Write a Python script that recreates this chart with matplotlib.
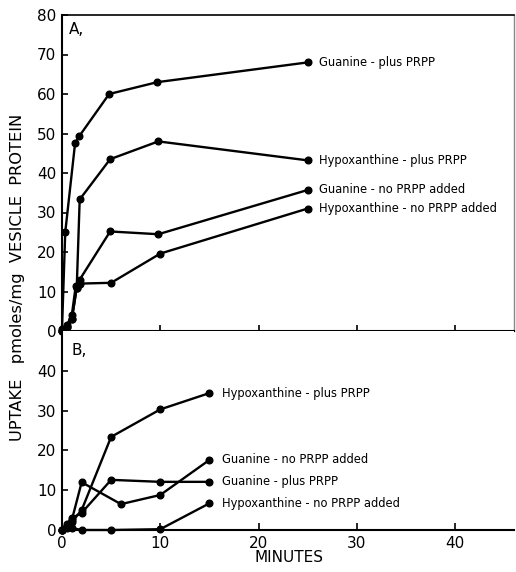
import matplotlib
matplotlib.use("Agg")
import matplotlib.pyplot as plt

# Panel A data (minutes, pmoles/mg)
a_gua_plus_x = [0, 0.33, 1.33, 1.75, 4.8, 9.7, 25]
a_gua_plus_y = [0.5, 25, 47.5, 49.3, 60, 63, 68]
a_hyp_plus_x = [0, 0.5, 1.0, 1.5, 1.8, 4.9, 9.8, 25]
a_hyp_plus_y = [0, 1, 3, 11, 33.3, 43.5, 48, 43.2]
a_gua_no_x = [0, 0.5, 1.0, 1.5, 1.8, 4.9, 9.8, 25]
a_gua_no_y = [0, 1, 3, 11, 13, 25.2, 24.5, 35.7]
a_hyp_no_x = [0, 0.5, 1.0, 1.4, 1.8, 5, 10, 25]
a_hyp_no_y = [0, 1.5, 4, 11.5, 12, 12.2, 19.6, 31]

# Panel B data
b_hyp_plus_x = [0, 0.5, 1, 2, 5, 10, 15]
b_hyp_plus_y = [0, 1, 2, 5, 23.4, 30.3, 34.4]
b_gua_no_x = [0, 0.5, 1, 2, 6, 10, 15]
b_gua_no_y = [0, 1, 2.5, 12, 6.5, 8.8, 17.6]
b_gua_plus_x = [0, 0.5, 1, 2, 5, 10, 15]
b_gua_plus_y = [0, 1.5, 3, 4.3, 12.6, 12.1, 12.1]
b_hyp_no_x = [0, 0.5, 1, 2, 5, 10, 15]
b_hyp_no_y = [0, 0.5, 0.5, 0, 0, 0.2, 6.7]

labels_a = ["Guanine - plus PRPP", "Hypoxanthine - plus PRPP",
            "Guanine - no PRPP added", "Hypoxanthine - no PRPP added"]
labels_a_y = [68, 43.2, 35.7, 31]
labels_b = ["Hypoxanthine - plus PRPP", "Guanine - no PRPP added",
            "Guanine - plus PRPP", "Hypoxanthine - no PRPP added"]
labels_b_y = [34.4, 17.6, 12.1, 6.7]

xticks = [0, 10, 20, 30, 40]
yticks_a = [0, 10, 20, 30, 40, 50, 60, 70, 80]
yticks_b = [0, 10, 20, 30, 40]

plt.rcParams['font.family'] = ['DejaVu Sans']
fig = plt.figure(figsize=(5.16, 5.72), dpi=100)
W, H = 516, 572
left = 62 / W
right = 514 / W
axA = fig.add_axes([left, 1 - 331 / H, right - left, (331 - 15) / H])
axB = fig.add_axes([left, 1 - 530 / H, right - left, (530 - 331) / H])

style = dict(color='black', lw=1.7, marker='o', ms=4.8, mfc='black', mec='black')

for x, y in [(a_gua_plus_x, a_gua_plus_y), (a_hyp_plus_x, a_hyp_plus_y),
             (a_gua_no_x, a_gua_no_y), (a_hyp_no_x, a_hyp_no_y)]:
    axA.plot(x, y, clip_on=False, **style)
for x, y in [(b_hyp_plus_x, b_hyp_plus_y), (b_gua_no_x, b_gua_no_y),
             (b_gua_plus_x, b_gua_plus_y), (b_hyp_no_x, b_hyp_no_y)]:
    axB.plot(x, y, clip_on=False, **style)

for lab, yy in zip(labels_a, labels_a_y):
    axA.text(26.2, yy, lab, fontsize=8.3, va='center', ha='left')
for lab, yy in zip(labels_b, labels_b_y):
    axB.text(16.3, yy, lab, fontsize=8.3, va='center', ha='left')

axA.set_xlim(0, 46)
axA.set_ylim(0, 80)
axB.set_xlim(0, 46)
axB.set_ylim(0, 50)

axA.set_yticks(yticks_a)
axA.set_yticklabels([str(v) for v in yticks_a], fontsize=11)
axA.set_xticks(xticks[1:])
axA.tick_params(axis='x', direction='inout', length=8, width=1.2, labelbottom=False)
axA.tick_params(axis='y', direction='in', length=4, width=1.2, pad=4)
axA.spines['top'].set_linewidth(1.2)
axA.spines['left'].set_linewidth(1.5)
axA.spines['bottom'].set_linewidth(1.5)
axA.spines['right'].set_linewidth(1.0)
axA.spines['right'].set_color('#888888')

axB.set_yticks(yticks_b)
axB.set_yticklabels([str(v) for v in yticks_b], fontsize=11)
axB.set_xticks(xticks)
axB.set_xticklabels([str(v) for v in xticks], fontsize=11)
axB.tick_params(axis='x', direction='in', length=5, width=1.2, pad=4)
axB.tick_params(axis='y', direction='in', length=4, width=1.2, pad=4)
axB.spines['top'].set_visible(False)
axB.spines['right'].set_visible(False)
axB.spines['left'].set_linewidth(1.5)
axB.spines['bottom'].set_linewidth(1.5)

axA.text(0.015, 0.955, "A,", transform=axA.transAxes, fontsize=11, va='center', ha='left')
axB.text(0.02, 0.9, "B,", transform=axB.transAxes, fontsize=11, va='center', ha='left')

fig.text(289 / W, 1 - 558 / H, "MINUTES", fontsize=11, ha='center', va='center')
fig.text(18 / W, 1 - 277 / H, "UPTAKE   pmoles/mg  VESICLE  PROTEIN", fontsize=11.7,
         rotation=90, ha='center', va='center')

fig.savefig("out.png", dpi=100)
